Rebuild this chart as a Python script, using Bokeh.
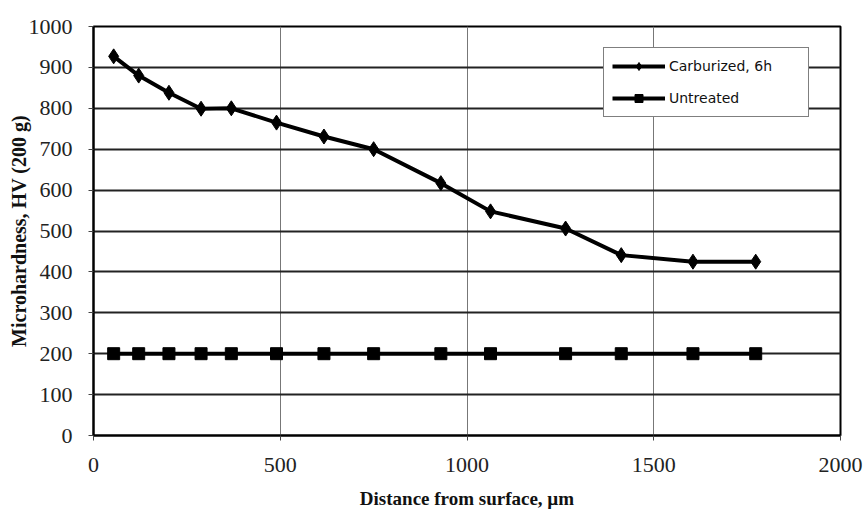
from bokeh.plotting import figure
from bokeh.models import Legend, LegendItem, FixedTicker
from bokeh.embed import file_html
from bokeh.resources import INLINE

distance = [54, 121, 202, 288, 369, 490, 617, 750, 930, 1063, 1264, 1413, 1605, 1773]
carburized = [927, 880, 838, 799, 800, 765, 731, 700, 617, 548, 506, 441, 425, 425]
untreated = [200, 200, 200, 200, 200, 200, 200, 200, 200, 200, 200, 200, 200, 200]
x_ticks = [0, 500, 1000, 1500, 2000]
y_ticks = [0, 100, 200, 300, 400, 500, 600, 700, 800, 900, 1000]

p = figure(width=868, height=513, output_backend="svg", toolbar_location=None,
           x_range=(0, 2000), y_range=(0, 1000),
           min_border_left=93, min_border_right=28, min_border_top=26, min_border_bottom=78)

p.background_fill_color = "white"
p.border_fill_color = "white"
p.outline_line_color = "black"
p.outline_line_width = 2

p.xaxis.ticker = FixedTicker(ticks=x_ticks)
p.yaxis.ticker = FixedTicker(ticks=y_ticks)
p.xgrid.grid_line_color = "#777777"
p.xgrid.grid_line_width = 1
p.ygrid.grid_line_color = "#222222"
p.ygrid.grid_line_width = 2

for ax in (p.xaxis[0], p.yaxis[0]):
    ax.axis_line_color = "black"
    ax.axis_line_width = 2
    ax.major_tick_out = 5
    ax.major_tick_in = 0
    ax.minor_tick_out = 0
    ax.minor_tick_in = 0
    ax.major_tick_line_color = "#444444"
    ax.major_label_text_font = "Liberation Serif"
    ax.major_label_text_font_size = "22px"
    ax.major_label_text_color = "#222222"
    ax.axis_label_text_font = "Liberation Serif"
    ax.axis_label_text_font_style = "bold"
    ax.axis_label_text_color = "#111111"

p.xaxis.axis_label = "Distance from surface, µm"
p.yaxis.axis_label = "Microhardness, HV (200 g)"
p.xaxis.axis_label_text_font_size = "19px"
p.yaxis.axis_label_text_font_size = "20px"
p.xaxis.major_label_standoff = 17
p.yaxis.major_label_standoff = 16
p.xaxis.axis_label_standoff = 13
p.yaxis.axis_label_standoff = -4

l1 = p.line(distance, carburized, line_color="black", line_width=4)
m1 = p.scatter(distance, carburized, marker="diamond", size=15, fill_color="black", line_color="black")
l2 = p.line(distance, untreated, line_color="black", line_width=4)
m2 = p.scatter(distance, untreated, marker="square", size=12, fill_color="black", line_color="black")

legend = Legend(items=[LegendItem(label="Carburized, 6h", renderers=[l1, m1]),
                       LegendItem(label="Untreated", renderers=[l2, m2])],
                location=(510, 318))
legend.border_line_color = "black"
legend.border_line_width = 1
legend.background_fill_color = "white"
legend.background_fill_alpha = 1
legend.padding = 8
legend.spacing = 12
legend.margin = 0
legend.glyph_width = 53
legend.glyph_height = 20
legend.label_height = 20
legend.label_standoff = 4
legend.label_width = 131
legend.label_text_font = "DejaVu Sans"
legend.label_text_font_size = "14px"
legend.label_text_color = "#111111"
p.add_layout(legend, "center")

open("out.html", "w").write(file_html(p, INLINE))
